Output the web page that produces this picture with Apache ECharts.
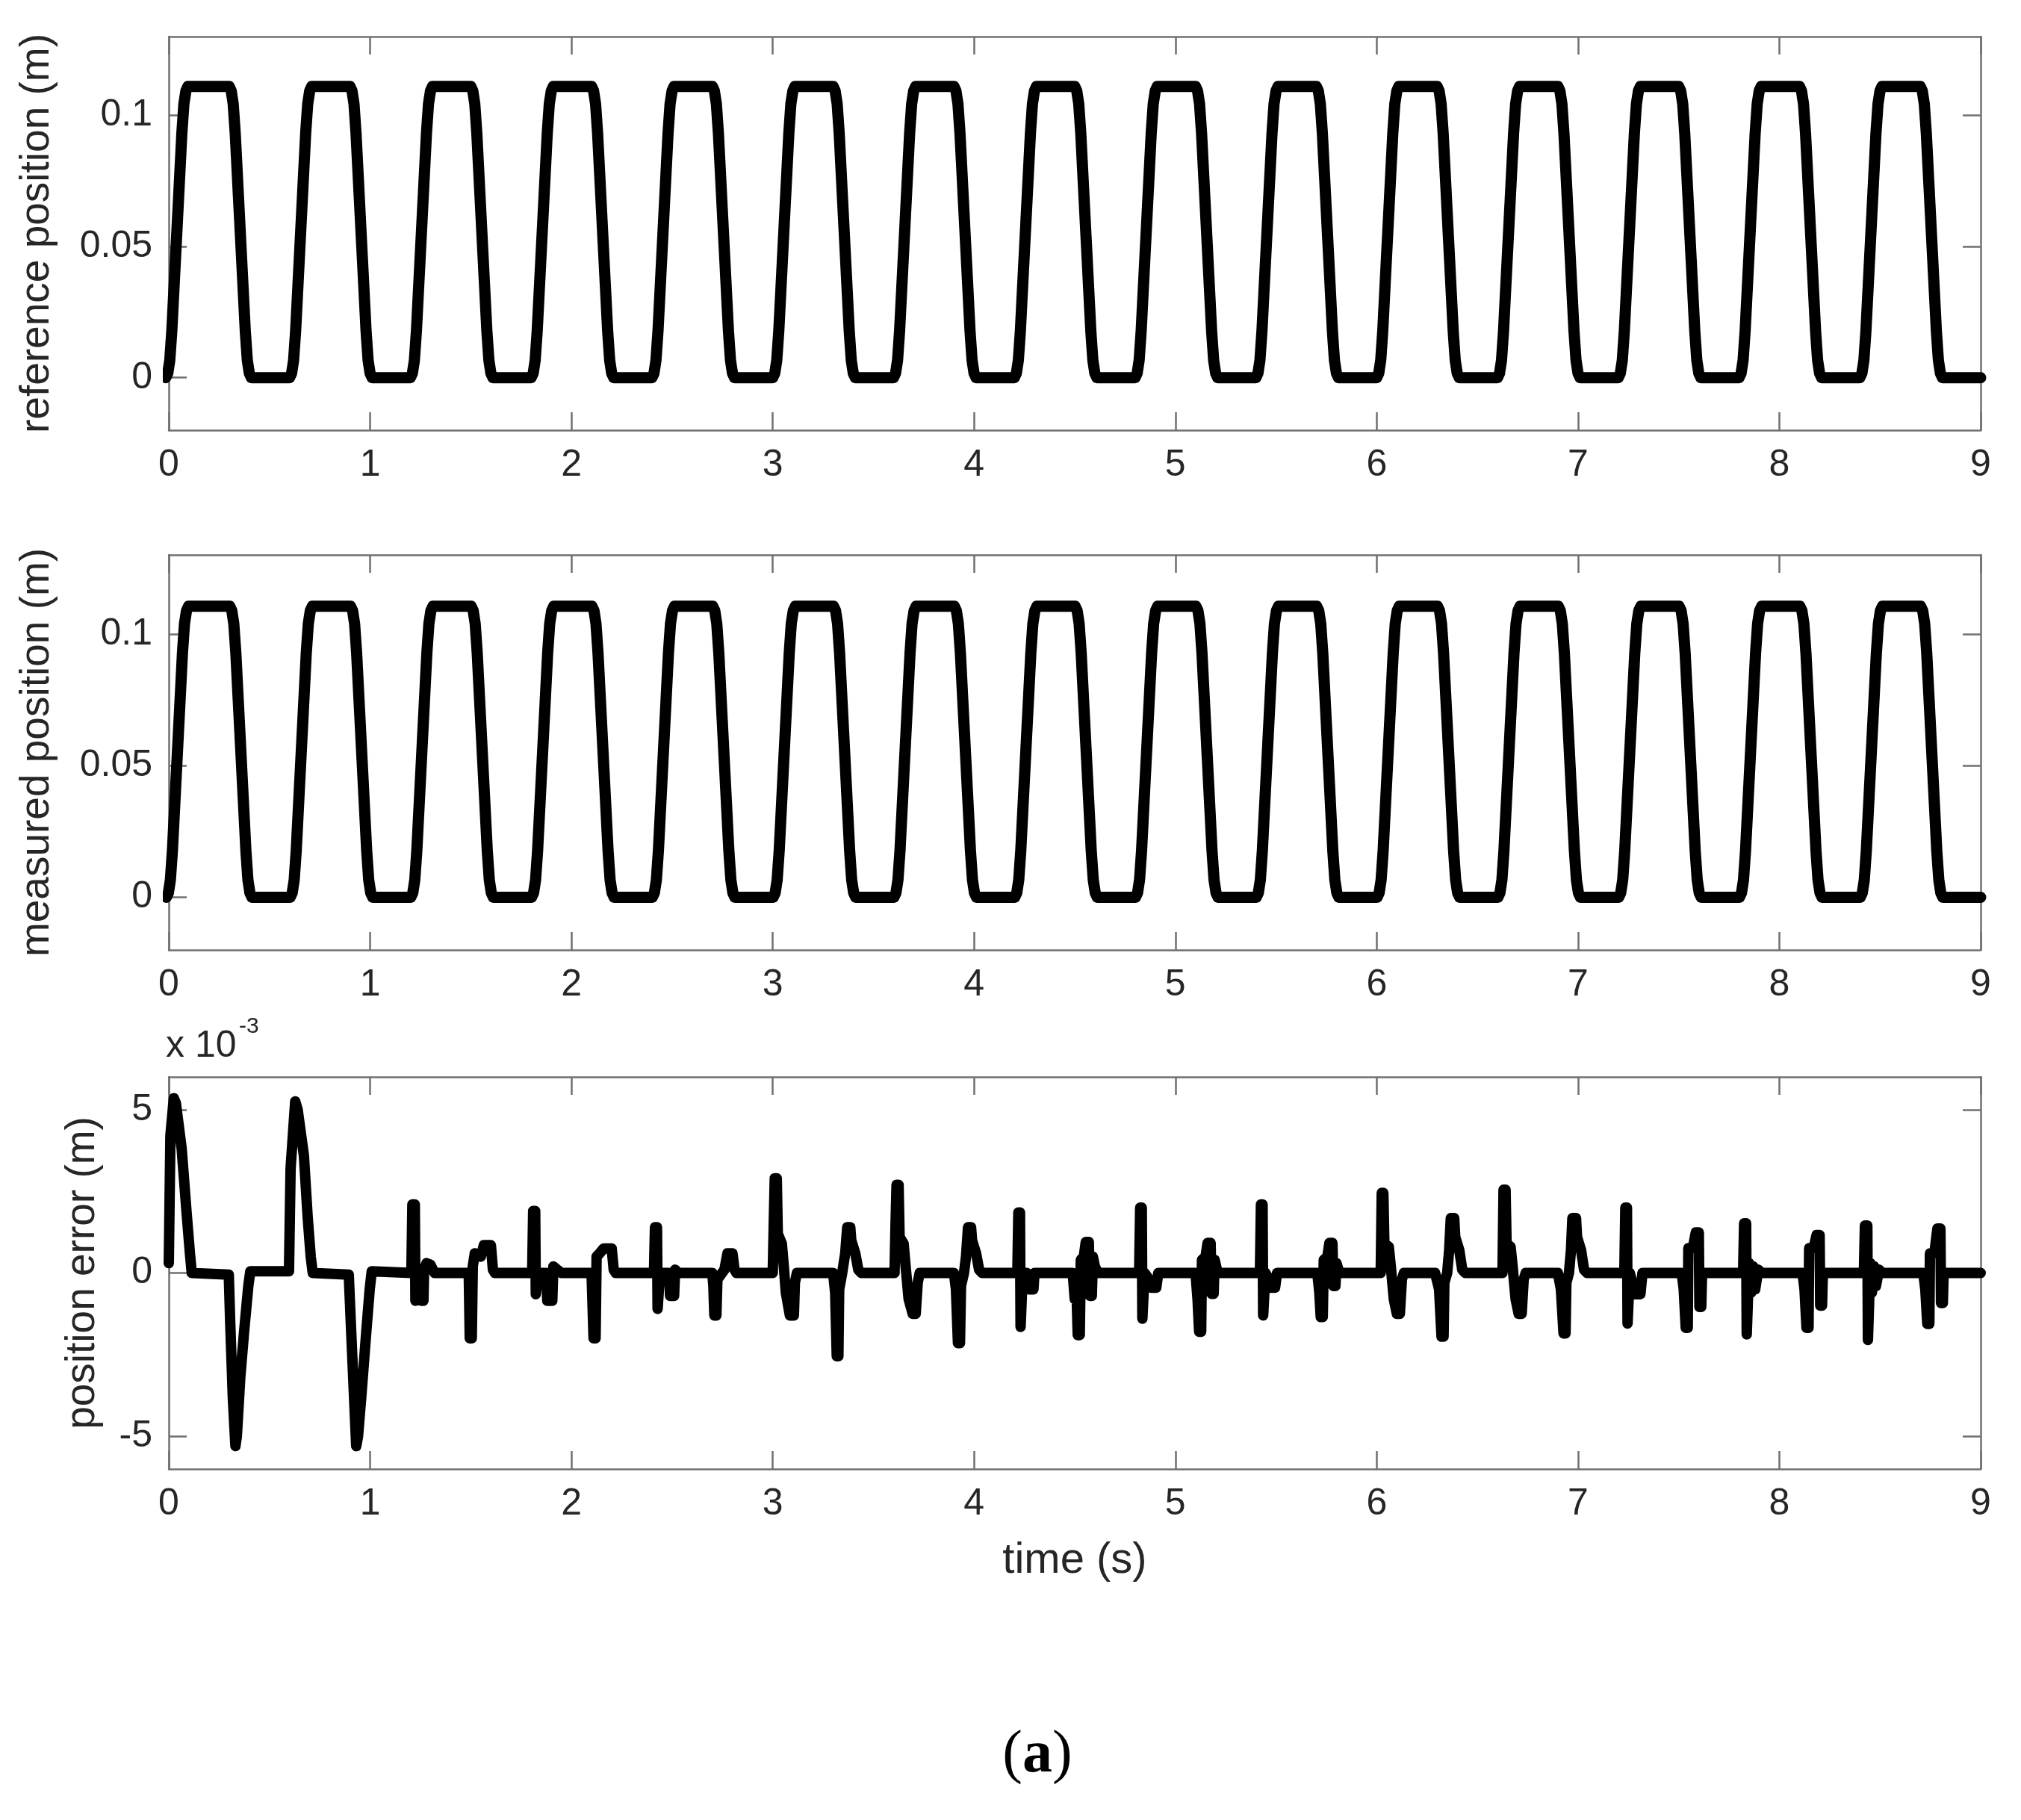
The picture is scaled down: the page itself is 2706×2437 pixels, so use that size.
<!DOCTYPE html>
<html>
<head>
<meta charset="utf-8">
<script src="https://cdn.jsdelivr.net/npm/echarts@6/dist/echarts.min.js"></script>
<style>
html, body { margin: 0; padding: 0; background: #fff; }
#chart { width: 2706px; height: 2437px; }
</style>
</head>
<body>
<div id="chart"></div>
<script>
// time axis ticks (s)
const timeTicks = [0, 1, 2, 3, 4, 5, 6, 7, 8, 9]
const posTicks = [0, 0.05, 0.1]
const errTicks = [-5, 0, 5]

// reference position: start of each rising / falling edge (s), plateau levels (m)
const refRise = [-0.015, 0.6, 1.2, 1.8, 2.4, 3.0, 3.6, 4.2, 4.8, 5.4, 6.0, 6.6, 7.2, 7.8, 8.4]
const refFall = [0.3, 0.9, 1.5, 2.1, 2.7, 3.3, 3.9, 4.5, 5.1, 5.7, 6.3, 6.9, 7.5, 8.1, 8.7]
const refHigh = 0.111

// measured position: edges
const measRise = [-0.012, 0.603, 1.202, 1.802, 2.402, 3.002, 3.602, 4.202, 4.802, 5.402, 6.002, 6.602, 7.202, 7.802, 8.402]
const measFall = [0.303, 0.903, 1.502, 2.102, 2.702, 3.302, 3.902, 4.502, 5.102, 5.702, 6.302, 6.902, 7.502, 8.102, 8.702]
const measHigh = 0.1105

// shape of one edge (rounded corners): time after edge start, fraction of the step
const edgeDt = [0, 0.01, 0.02, 0.03, 0.08, 0.09, 0.1, 0.11]
const edgeFrac = [0, 0.015, 0.06, 0.16, 0.84, 0.94, 0.985, 1]

// position error (x 10^-3 m), [time, value]
const errorTrace = [
  [0, 0.3], [0.008, 4.2], [0.025, 5.35], [0.035, 5.2], [0.064, 3.8], [0.089, 1.8], [0.105, 0.6], [0.114, 0],
  [0.298, -0.05], [0.305, -1.5], [0.318, -3.8], [0.331, -5.3], [0.338, -5.0], [0.355, -3.2], [0.374, -1.8], [0.395, -0.4], [0.405, 0.05],
  [0.597, 0.05], [0.605, 3.2], [0.628, 5.25], [0.64, 5.0], [0.671, 3.6], [0.69, 1.7], [0.705, 0.5], [0.715, 0],
  [0.894, -0.05], [0.906, -1.8], [0.931, -5.3], [0.94, -5.0], [0.956, -3.8], [0.981, -1.8], [0.998, -0.5], [1.008, 0.05],
  [1.205, 0], [1.21, 2.1], [1.222, 2.1], [1.225, -0.85], [1.232, -0.85], [1.235, 0], [1.25, 0], [1.255, -0.85], [1.265, -0.85], [1.268, 0.1], [1.28, 0.3], [1.30, 0.25], [1.32, 0],
  [1.49, 0], [1.495, -2.0], [1.505, -2.0], [1.51, 0.2], [1.52, 0.6], [1.55, 0.5], [1.565, 0.85], [1.60, 0.85], [1.61, 0.1], [1.62, 0],
  [1.805, 0], [1.81, 1.9], [1.82, 1.9], [1.823, -0.65], [1.83, -0.65], [1.835, 0], [1.875, 0], [1.88, -0.85], [1.905, -0.85], [1.91, 0.2], [1.93, 0.1], [1.95, 0],
  [2.10, 0], [2.11, -2.0], [2.12, -2.0], [2.125, 0.5], [2.14, 0.6], [2.16, 0.75], [2.2, 0.75], [2.21, 0.1], [2.22, 0],
  [2.41, 0], [2.415, 1.4], [2.425, 1.4], [2.428, -1.1], [2.435, -1.1], [2.44, 0], [2.485, 0], [2.49, -0.7], [2.51, -0.7], [2.515, 0.1], [2.53, 0],
  [2.70, 0], [2.705, -0.4], [2.71, -1.3], [2.72, -1.3], [2.725, -0.2], [2.76, 0.1], [2.775, 0.6], [2.80, 0.6], [2.81, 0.1], [2.82, 0],
  [3.0, 0], [3.005, 1.5], [3.01, 2.9], [3.02, 2.9], [3.025, 1.2], [3.045, 0.9], [3.055, 0.2], [3.065, -0.6], [3.085, -1.3], [3.105, -1.3], [3.11, -0.3], [3.12, 0],
  [3.30, 0], [3.31, -0.6], [3.318, -2.55], [3.326, -2.55], [3.33, -0.5], [3.345, 0], [3.36, 0.6], [3.37, 1.4], [3.385, 1.4], [3.39, 1.0], [3.41, 0.6], [3.425, 0.1], [3.44, 0],
  [3.605, 0], [3.61, 1.5], [3.615, 2.7], [3.625, 2.7], [3.63, 1.1], [3.65, 0.9], [3.66, 0.2], [3.675, -0.8], [3.695, -1.25], [3.71, -1.25], [3.72, -0.3], [3.73, 0],
  [3.90, 0], [3.91, -0.5], [3.92, -2.15], [3.93, -2.15], [3.935, -0.4], [3.95, 0], [3.96, 0.5], [3.97, 1.4], [3.985, 1.4], [3.99, 1.0], [4.01, 0.6], [4.025, 0.1], [4.04, 0],
  [4.215, 0], [4.22, 1.85], [4.228, 1.85], [4.231, -1.65], [4.238, -1.65], [4.242, 0], [4.262, 0], [4.27, -0.5], [4.295, -0.5], [4.30, 0],
  [4.49, 0], [4.50, -0.8], [4.51, -0.8], [4.515, -1.9], [4.525, -1.9], [4.53, 0.4], [4.545, 0.5], [4.555, 0.95], [4.57, 0.95], [4.575, -0.7], [4.585, -0.7], [4.59, 0.5], [4.60, 0.2], [4.615, 0],
  [4.82, 0], [4.825, 2.0], [4.833, 2.0], [4.836, -1.4], [4.843, -1.4], [4.847, 0], [4.87, -0.2], [4.88, -0.45], [4.905, -0.45], [4.915, 0],
  [5.10, 0], [5.11, -0.8], [5.118, -1.8], [5.128, -1.8], [5.132, 0.4], [5.15, 0.5], [5.16, 0.92], [5.175, 0.92], [5.18, -0.64], [5.19, -0.64], [5.195, 0.4], [5.21, 0],
  [5.42, 0], [5.425, 2.1], [5.433, 2.1], [5.436, -1.3], [5.443, -1.3], [5.447, 0], [5.465, -0.2], [5.47, -0.45], [5.495, -0.45], [5.505, 0],
  [5.705, 0], [5.715, -0.6], [5.722, -1.35], [5.732, -1.35], [5.737, 0.4], [5.755, 0.5], [5.765, 0.92], [5.78, 0.92], [5.785, -0.4], [5.795, -0.4], [5.80, 0.3], [5.815, 0],
  [6.02, 0], [6.025, 2.45], [6.033, 2.45], [6.038, 0.9], [6.06, 0.8], [6.07, 0.2], [6.085, -0.8], [6.10, -1.25], [6.115, -1.25], [6.125, -0.2], [6.135, 0],
  [6.29, 0], [6.31, -0.5], [6.322, -1.95], [6.332, -1.95], [6.336, -0.3], [6.35, 0], [6.36, 0.7], [6.368, 1.68], [6.385, 1.68], [6.39, 1.1], [6.41, 0.7], [6.425, 0.1], [6.44, 0],
  [6.625, 0], [6.63, 2.55], [6.64, 2.55], [6.645, 0.9], [6.665, 0.8], [6.675, 0.2], [6.69, -0.8], [6.705, -1.25], [6.72, -1.25], [6.73, -0.2], [6.74, 0],
  [6.90, 0], [6.915, -0.5], [6.928, -1.85], [6.938, -1.85], [6.942, -0.3], [6.955, 0], [6.965, 0.7], [6.972, 1.68], [6.99, 1.68], [6.995, 1.1], [7.015, 0.7], [7.03, 0.1], [7.045, 0],
  [7.23, 0], [7.235, 2.0], [7.243, 2.0], [7.246, -1.55], [7.253, -1.55], [7.257, 0], [7.27, -0.3], [7.28, -0.65], [7.31, -0.65], [7.32, 0],
  [7.515, 0], [7.525, -0.5], [7.535, -1.68], [7.545, -1.68], [7.548, 0.76], [7.57, 0.76], [7.585, 1.24], [7.60, 1.24], [7.603, -1.04], [7.612, -1.04], [7.616, 0], [7.63, 0],
  [7.82, 0], [7.825, 1.52], [7.835, 1.52], [7.838, -1.88], [7.845, -1.88], [7.85, 0.3], [7.86, -0.6], [7.87, 0.2], [7.88, -0.5], [7.895, 0.1], [7.91, 0],
  [8.115, 0], [8.125, -0.5], [8.135, -1.68], [8.145, -1.68], [8.148, 0.76], [8.17, 0.76], [8.185, 1.16], [8.2, 1.16], [8.203, -1.0], [8.212, -1.0], [8.216, 0], [8.23, 0],
  [8.42, 0], [8.425, 1.45], [8.437, 1.45], [8.44, -2.05], [8.447, -2.05], [8.452, 0.3], [8.46, -0.6], [8.47, 0.2], [8.48, -0.4], [8.495, 0.1], [8.51, 0],
  [8.715, 0], [8.725, -0.5], [8.735, -1.56], [8.745, -1.56], [8.748, 0.6], [8.77, 0.6], [8.785, 1.36], [8.80, 1.36], [8.803, -0.92], [8.812, -0.92], [8.816, 0], [8.83, 0],
  [9.0, 0]
]

// join rising and falling edges into one trace
function buildTrace (rise, fall, high, tEnd) {
  const pts = []
  for (let i = 0; i < rise.length; i++) {
    edgeDt.forEach((dt, j) => pts.push([rise[i] + dt, edgeFrac[j] * high]))
    edgeDt.forEach((dt, j) => pts.push([fall[i] + dt, high - edgeFrac[j] * high]))
  }
  pts.push([tEnd, 0])
  return pts
}

const FONT = 'Liberation Sans, Arial, sans-serif'
const SERIF = 'Liberation Serif, DejaVu Serif, serif'
const TXT = '#262626'
const FRAME = '#707070'

const grids = [
  { left: 226, right: 54, top: 49, height: 527 },
  { left: 226, right: 54, top: 743, height: 529 },
  { left: 226, right: 54, top: 1442, height: 525 }
]

function xAxes (gridIndex, name) {
  const base = {
    type: 'value',
    gridIndex: gridIndex,
    min: 0,
    max: 9,
    interval: 1,
    axisLine: { show: true, onZero: false, lineStyle: { color: FRAME, width: 2.5 } },
    axisTick: { show: true, inside: true, length: 24, lineStyle: { color: FRAME, width: 2.5 } },
    splitLine: { show: false }
  }
  return [
    Object.assign({}, base, {
      position: 'bottom',
      axisLabel: { fontSize: 50, color: TXT, fontFamily: FONT, margin: 22 },
      name: name || '',
      nameLocation: 'middle',
      nameGap: 94,
      nameTextStyle: { fontSize: 58, color: TXT, fontFamily: FONT }
    }),
    Object.assign({}, base, { position: 'top', axisLabel: { show: false } })
  ]
}

function yAxes (gridIndex, min, max, ticks, name, gap, fmt) {
  const base = {
    type: 'value',
    gridIndex: gridIndex,
    min: min,
    max: max,
    axisLine: { show: true, onZero: false, lineStyle: { color: FRAME, width: 2.5 } },
    axisTick: { show: true, inside: true, length: 24, customValues: ticks, lineStyle: { color: FRAME, width: 2.5 } },
    splitLine: { show: false }
  }
  return [
    Object.assign({}, base, {
      position: 'left',
      axisLabel: { fontSize: 50, color: TXT, fontFamily: FONT, margin: 22, customValues: ticks, formatter: fmt },
      name: name,
      nameLocation: 'middle',
      nameGap: gap,
      nameTextStyle: { fontSize: 55, color: TXT, fontFamily: FONT }
    }),
    Object.assign({}, base, { position: 'right', axisLabel: { show: false } })
  ]
}

const posLine = { color: '#000', width: 15, join: 'round', cap: 'round' }
const errLine = { color: '#000', width: 14, join: 'round', cap: 'round' }

const option = {
  backgroundColor: '#fff',
  animation: false,
  grid: grids,
  xAxis: [...xAxes(0), ...xAxes(1), ...xAxes(2, 'time (s)')],
  yAxis: [
    ...yAxes(0, -0.02, 0.13, posTicks, 'reference position (m)', 149, v => String(+v.toFixed(2))),
    ...yAxes(1, -0.02, 0.13, posTicks, 'measured position (m)', 149, v => String(+v.toFixed(2))),
    ...yAxes(2, -6, 6, errTicks, 'position error (m)', 88, v => String(v))
  ],
  graphic: [
    { type: 'text', x: 222, y: 1376, style: { text: 'x 10', fontSize: 50, fill: TXT, fontFamily: FONT } },
    { type: 'text', x: 320, y: 1360, style: { text: '-3', fontSize: 30, fill: TXT, fontFamily: FONT } },
    {
      type: 'text',
      x: 1389,
      y: 2351,
      style: {
        text: '{p|(}{b|a}{p|)}',
        align: 'center',
        verticalAlign: 'middle',
        rich: {
          p: { fontSize: 80, fontFamily: SERIF, fill: '#000' },
          b: { fontSize: 80, fontWeight: 'bold', fontFamily: SERIF, fill: '#000' }
        }
      }
    }
  ],
  series: [
    {
      type: 'line',
      xAxisIndex: 0,
      yAxisIndex: 0,
      data: buildTrace(refRise, refFall, refHigh, 9),
      showSymbol: false,
      lineStyle: posLine
    },
    {
      type: 'line',
      xAxisIndex: 2,
      yAxisIndex: 2,
      data: buildTrace(measRise, measFall, measHigh, 9),
      showSymbol: false,
      lineStyle: posLine
    },
    {
      type: 'line',
      xAxisIndex: 4,
      yAxisIndex: 4,
      data: errorTrace,
      showSymbol: false,
      lineStyle: errLine
    }
  ]
}

const chart = echarts.init(document.getElementById('chart'))
chart.setOption(option)
</script>
</body>
</html>
